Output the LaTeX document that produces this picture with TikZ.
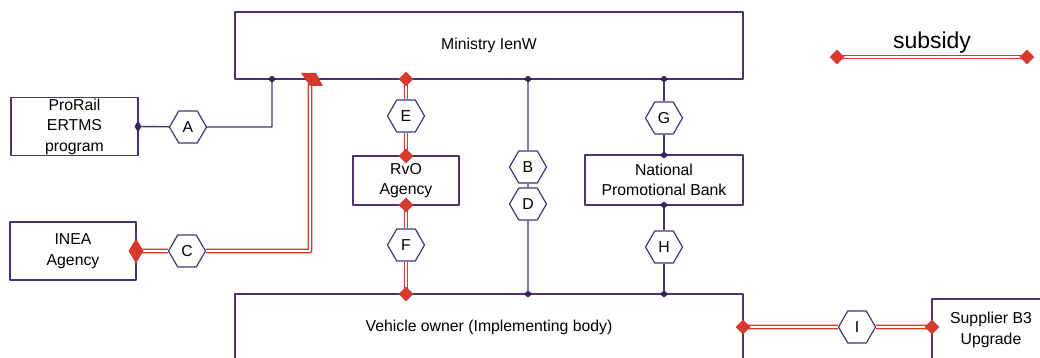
\documentclass[tikz,border=0pt]{standalone}
\usepackage{fontspec}
\setmainfont{Liberation Sans}
\usetikzlibrary{shapes.geometric}
\definecolor{frame}{RGB}{74,52,112}
\definecolor{dot}{RGB}{56,34,92}
\definecolor{subred}{RGB}{214,58,47}
\begin{document}
\begin{tikzpicture}[x=1pt, y=-1pt, line join=round, font=\fontsize{15.8}{20.5}\selectfont]
	\tikzset{
		box/.style={draw=frame, line width=1.3pt, inner sep=0pt, outer sep=0pt, align=center},
		hexa/.style={regular polygon, regular polygon sides=6, draw=frame, fill=white, line width=1.2pt, inner sep=0pt, minimum size=37pt},
		link/.style={draw=frame, line width=1.4pt},
		sub/.style={draw=subred, line width=1.5pt, double=white, double distance=1.6pt},
		rmark/.style={diamond, fill=subred, inner sep=0pt, minimum width=15pt, minimum height=15pt},
		pmark/.style={diamond, fill=dot, inner sep=0pt, minimum width=9pt, minimum height=7pt}
	}
	\useasboundingbox (0,0) rectangle (1040,358);
	%Khung
	\node[box, minimum width=508pt, minimum height=67pt] (min) at (489,45.5) {Ministry IenW};
	\node[box, minimum width=127pt, minimum height=58pt] (pro) at (74.5,126.5) {ProRail\\ERTMS\\program};
	\node[box, minimum width=126pt, minimum height=58pt] (inea) at (73,251) {INEA\\Agency};
	\node[box, minimum width=106pt, minimum height=49pt] (rvo) at (406,180.5) {RvO\\Agency};
	\node[box, minimum width=158pt, minimum height=50pt] (npb) at (664,180) {National\\Promotional Bank};
	\node[box, minimum width=508pt, minimum height=67pt] (veh) at (489,327.5) {Vehicle owner (Implementing body)};
	\node[box, minimum width=118pt, minimum height=62pt] (sup) at (991,330) {Supplier B3\\Upgrade};
	%Lục giác
	\node[hexa] (hA) at (188,127) {A};
	\node[hexa] (hB) at (528,167) {B};
	\node[hexa] (hC) at (187,251) {C};
	\node[hexa] (hD) at (528,204) {D};
	\node[hexa] (hE) at (406,116) {E};
	\node[hexa] (hF) at (406,245) {F};
	\node[hexa] (hG) at (664,118) {G};
	\node[hexa] (hH) at (664,247) {H};
	\node[hexa] (hI) at (857,327) {I};
	%Đường nối
	\coordinate (mA) at (272,79);
	\coordinate (mC) at (310,84);
	\draw[link] (pro.east) -- (hA) -- (hA -| mA) -- (mA);
	\draw[sub] (inea.east) -- (hC) -- (hC -| mC) -- (mC);
	\draw[sub] (min.south -| hE) -- (hE) -- (rvo.north);
	\draw[sub] (rvo.south) -- (hF) -- (veh.north -| hF);
	\draw[link] (min.south -| hB) -- (hB) -- (hD) -- (veh.north -| hD);
	\draw[link] (min.south -| hG) -- (hG) -- (npb.north);
	\draw[link] (npb.south) -- (hH) -- (veh.north -| hH);
	\draw[sub] (veh.east |- hI) -- (hI) -- (sup.west |- hI);
	%Đầu nối
	\node[pmark, minimum width=7pt, minimum height=12pt] (kP) at (pro.east) {};
	\node[pmark] (kA) at (mA) {};
	\fill[subred] (mC) ++(-9,-11) -- ++(15,0) -- ++(7,13) -- ++(-13,0) -- cycle;
	\node[rmark, minimum height=25pt] (kC) at (inea.east) {};
	\node[rmark] (kE1) at (min.south -| hE) {};
	\node[rmark] (kE2) at (rvo.north) {};
	\node[rmark] (kF1) at (rvo.south) {};
	\node[rmark] (kF2) at (veh.north -| hF) {};
	\node[pmark] (kB) at (min.south -| hB) {};
	\node[pmark] (kD) at (veh.north -| hD) {};
	\node[pmark] (kG1) at (min.south -| hG) {};
	\node[pmark] (kG2) at (npb.north) {};
	\node[pmark] (kH1) at (npb.south) {};
	\node[pmark] (kH2) at (veh.north -| hH) {};
	\node[rmark] (kI1) at (veh.east |- hI) {};
	\node[rmark] (kI2) at (sup.west |- hI) {};
	%Chú thích
	\coordinate (lg1) at (837,57);
	\coordinate (lg2) at (1027,57);
	\draw[sub] (lg1) -- (lg2);
	\node[rmark] (kl1) at (lg1) {};
	\node[rmark] (kl2) at (lg2) {};
	\node[font=\fontsize{23}{26}\selectfont] (leg) at (932,43) {subsidy};
\end{tikzpicture}
\end{document}
